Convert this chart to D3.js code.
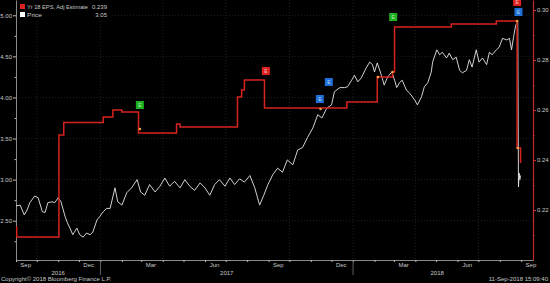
<!DOCTYPE html>
<html>
<head>
<meta charset="utf-8">
<script src="https://cdn.jsdelivr.net/npm/d3@7"></script>
<style>
  body { margin: 0; background: #000; }
  svg { display: block; font-family: "Liberation Sans", Arial, sans-serif; }
</style>
</head>
<body>
<div id="chart"></div>
<script>
// ---- Data ----
var priceDates = ["2016-09-01","2016-09-07","2016-09-13","2016-09-17","2016-09-21","2016-09-28","2016-10-03","2016-10-09","2016-10-13","2016-10-17","2016-10-23","2016-10-27","2016-11-01","2016-11-05","2016-11-11","2016-11-14","2016-11-18","2016-11-22","2016-11-28","2016-12-02","2016-12-07","2016-12-12","2016-12-17","2016-12-21","2016-12-27","2016-12-31","2017-01-05","2017-01-10","2017-01-15","2017-01-22","2017-01-26","2017-02-01","2017-02-08","2017-02-15","2017-02-23","2017-02-28","2017-03-06","2017-03-13","2017-03-21","2017-03-28","2017-04-04","2017-04-11","2017-04-18","2017-04-26","2017-05-03","2017-05-10","2017-05-17","2017-05-25","2017-06-01","2017-06-08","2017-06-15","2017-06-22","2017-06-30","2017-07-07","2017-07-14","2017-07-21","2017-07-28","2017-08-05","2017-08-12","2017-08-19","2017-08-25","2017-08-31","2017-09-07","2017-09-14","2017-09-21","2017-09-28","2017-10-06","2017-10-13","2017-10-20","2017-10-27","2017-11-04","2017-11-11","2017-11-17","2017-11-24","2017-12-01","2017-12-05","2017-12-13","2017-12-20","2017-12-24","2017-12-30","2018-01-03","2018-01-08","2018-01-13","2018-01-20","2018-01-25","2018-01-29","2018-02-01","2018-02-05","2018-02-11","2018-02-15","2018-02-20","2018-02-26","2018-03-02","2018-03-05","2018-03-09","2018-03-13","2018-03-19","2018-03-24","2018-03-31","2018-04-04","2018-04-10","2018-04-14","2018-04-19","2018-04-24","2018-04-26","2018-05-02","2018-05-06","2018-05-10","2018-05-16","2018-05-20","2018-05-25","2018-05-30","2018-06-04","2018-06-08","2018-06-14","2018-06-18","2018-06-22","2018-06-28","2018-07-02","2018-07-07","2018-07-13","2018-07-17","2018-07-21","2018-07-27","2018-07-31","2018-08-05","2018-08-11","2018-08-15","2018-08-18","2018-08-21","2018-08-24","2018-08-27","2018-08-28","2018-08-29","2018-08-30","2018-08-31"];
var priceValues = [2.68,2.69,2.57,2.63,2.72,2.80,2.78,2.61,2.60,2.72,2.73,2.72,2.78,2.73,2.55,2.48,2.41,2.33,2.41,2.33,2.30,2.35,2.33,2.36,2.51,2.55,2.61,2.65,2.65,2.90,2.73,2.69,2.84,2.90,3.00,2.85,2.81,2.94,2.85,2.92,3.02,2.92,2.98,2.90,3.00,2.92,2.87,2.96,2.90,2.81,2.94,3.00,2.92,3.02,2.94,3.01,2.97,3.05,2.90,2.69,2.81,2.94,3.06,3.14,3.09,3.24,3.18,3.36,3.39,3.51,3.63,3.79,3.75,3.87,3.91,4.07,4.12,4.12,4.13,4.21,4.27,4.19,4.24,4.36,4.43,4.40,4.31,4.42,4.27,4.15,4.25,4.31,4.21,4.12,4.18,4.21,4.09,4.05,3.97,3.91,4.01,4.13,4.18,4.31,4.43,4.58,4.52,4.55,4.48,4.54,4.46,4.49,4.33,4.30,4.33,4.46,4.37,4.58,4.43,4.48,4.40,4.55,4.52,4.58,4.61,4.72,4.70,4.72,4.58,4.74,4.88,4.92,2.91,3.08,3.00,3.05];

// Yr 18 EPS adjusted estimate (step series, right axis)
var epsDates = ["2016-09-01","2016-09-02","2016-11-02","2016-11-09","2017-01-05","2017-01-19","2017-02-01","2017-02-25","2017-04-21","2017-04-26","2017-07-18","2017-07-24","2017-07-28","2017-08-26","2017-12-23","2018-02-05","2018-02-27","2018-03-02","2018-05-23","2018-07-27","2018-08-26","2018-08-31"];
var epsValues = [0.2132,0.2092,0.2500,0.2550,0.2572,0.2600,0.2592,0.2508,0.2544,0.2532,0.2652,0.2680,0.2720,0.2608,0.2632,0.2732,0.2752,0.2932,0.2944,0.2956,0.2448,0.2388];

// small orange dots on the estimate line
var dotDates = ["2017-02-27","2017-11-15","2018-02-06","2018-02-27","2018-08-26","2018-08-27"];
var dotValues = [0.2524,0.2604,0.2732,0.2752,0.2956,0.2448];

// event boxes
var eventDates = ["2017-02-27","2017-08-28","2017-11-14","2017-11-27","2018-02-28","2018-08-26","2018-08-28"];
var eventValues = [0.2620,0.2756,0.2644,0.2712,0.2972,0.3032,0.2992];
var eventColors = ["green","red","blue","blue","green","red","blue"];

var priceTicks = [2.5, 3.0, 3.5, 4.0, 4.5, 5.0];
var priceMinor = [2.25, 2.75, 3.25, 3.75, 4.25, 4.75];
var epsTicks = [0.22, 0.24, 0.26, 0.28, 0.30];
var epsMinor = [0.21, 0.23, 0.25, 0.27, 0.29];

var monthLabelDates = ["2016-09-15","2016-12-15","2017-03-15","2017-06-15","2017-09-15","2017-12-15","2018-03-15","2018-06-15","2018-09-15"];
var monthLabels = ["Sep","Dec","Mar","Jun","Sep","Dec","Mar","Jun","Sep"];
var yearLabels = ["2016","2017","2018"];

var legendNames = ["Yr 18 EPS, Adj Estimate", "Price"];
var legendValues = ["0.239", "3.05"];

// ---- Layout ----
var width = 550, height = 283;
var plotLeft = 16, plotRight = 533, plotTop = 0, plotBottom = 260;
var parse = d3.timeParse("%Y-%m-%d");
var colors = { green: "#1db21d", red: "#e0201e", blue: "#1f6fd8" };
var labelColor = "#c8c8c8";

var svg = d3.select("#chart").append("svg")
  .attr("width", width)
  .attr("height", height);

svg.append("rect").attr("width", width).attr("height", height).attr("fill", "#000");

var x = d3.scaleTime()
  .domain([parse("2016-09-01"), parse("2018-09-18")])
  .range([plotLeft, plotRight]);
var yPrice = d3.scaleLinear().domain([2.022, 5.186]).range([plotBottom, plotTop]);
var yEps = d3.scaleLinear().domain([0.200, 0.304]).range([plotBottom, plotTop]);

// gridlines
var grid = svg.append("g").attr("stroke", "#2e2e2e").attr("stroke-width", 0.7).attr("stroke-dasharray", "1,2");
var quarterStarts = d3.timeMonth.range(parse("2016-10-01"), parse("2018-09-18"), 3);
grid.selectAll("line.v").data(quarterStarts).enter().append("line")
  .attr("x1", d => x(d)).attr("x2", d => x(d))
  .attr("y1", plotTop).attr("y2", plotBottom);
grid.selectAll("line.h").data(priceTicks).enter().append("line")
  .attr("x1", plotLeft).attr("x2", plotRight)
  .attr("y1", d => yPrice(d)).attr("y2", d => yPrice(d));

// left axis (price)
var leftAxis = svg.append("g").attr("transform", "translate(" + plotLeft + ",0)")
  .call(d3.axisLeft(yPrice).tickValues(priceTicks).tickFormat(d3.format(".2f")).tickSize(3).tickSizeOuter(0).tickPadding(1));
svg.append("g").attr("transform", "translate(" + plotLeft + ",0)")
  .call(d3.axisLeft(yPrice).tickValues(priceMinor).tickFormat("").tickSize(1.5).tickSizeOuter(0))
  .select(".domain").remove();

// right axis (EPS)
var rightAxis = svg.append("g").attr("transform", "translate(" + plotRight + ",0)")
  .call(d3.axisRight(yEps).tickValues(epsTicks).tickFormat(d3.format(".2f")).tickSize(3).tickSizeOuter(0).tickPadding(1));
svg.append("g").attr("class", "rminor").attr("transform", "translate(" + plotRight + ",0)")
  .call(d3.axisRight(yEps).tickValues(epsMinor).tickFormat("").tickSize(1.5).tickSizeOuter(0))
  .select(".domain").remove();

// bottom axis
var bottomAxis = svg.append("g").attr("transform", "translate(0," + plotBottom + ")")
  .call(d3.axisBottom(x).ticks(d3.timeMonth.every(1)).tickFormat("").tickSize(2).tickSizeOuter(0));

svg.selectAll(".domain").attr("stroke", "#8a8a8a");
svg.selectAll(".tick line").attr("stroke", "#bbbbbb");
svg.selectAll(".tick text").attr("fill", labelColor).style("font-size", "6px");
rightAxis.select(".domain").attr("stroke", "#c0281f").attr("stroke-width", 1.2);
rightAxis.selectAll(".tick line").attr("stroke", "#d0302a");
svg.selectAll(".rminor .tick line").attr("stroke", "#d0302a");

// month + year labels
svg.append("g").selectAll("text").data(monthLabelDates).enter().append("text")
  .attr("x", d => x(parse(d))).attr("y", 267)
  .attr("text-anchor", "middle").attr("fill", labelColor).style("font-size", "6px")
  .text((d, i) => monthLabels[i]);

var dataEnd = parse("2018-09-01");
var yearSeps = [parse("2017-01-01"), parse("2018-01-01")];
svg.append("g").selectAll("line").data(yearSeps).enter().append("line")
  .attr("x1", d => x(d)).attr("x2", d => x(d))
  .attr("y1", plotBottom).attr("y2", 275)
  .attr("stroke", "#777").attr("stroke-width", 0.8);
svg.append("g").selectAll("text").data(yearLabels).enter().append("text")
  .attr("x", d => {
    var a = d3.max([x.domain()[0], parse(d + "-01-01")]);
    var b = d3.min([dataEnd, parse((+d + 1) + "-01-01")]);
    return (x(a) + x(b)) / 2;
  })
  .attr("y", 275)
  .attr("text-anchor", "middle").attr("fill", labelColor).style("font-size", "6px")
  .text(d => d);

// price line
var priceData = priceDates.map((d, i) => ({ date: parse(d), value: priceValues[i] }));
svg.append("path").datum(priceData)
  .attr("fill", "none").attr("stroke", "#e6e6e6").attr("stroke-width", 0.9)
  .attr("d", d3.line().x(d => x(d.date)).y(d => yPrice(d.value)));

// EPS estimate step line
var epsData = epsDates.map((d, i) => ({ date: parse(d), value: epsValues[i] }));
svg.append("path").datum(epsData)
  .attr("fill", "none").attr("stroke", "#d8231f").attr("stroke-width", 1.5)
  .attr("d", d3.line().curve(d3.curveStepAfter).x(d => x(d.date)).y(d => yEps(d.value)));

// orange dots
svg.append("g").selectAll("circle").data(dotDates).enter().append("circle")
  .attr("cx", d => x(parse(d)))
  .attr("cy", (d, i) => yEps(dotValues[i]))
  .attr("r", 1.3).attr("fill", "#f0a040");

// event boxes
var ev = svg.append("g").selectAll("g").data(eventDates).enter().append("g")
  .attr("transform", (d, i) => "translate(" + x(parse(d)) + "," + yEps(eventValues[i]) + ")");
ev.append("rect")
  .attr("x", -4).attr("y", -4).attr("width", 8).attr("height", 8)
  .attr("fill", (d, i) => colors[eventColors[i]]);
ev.append("text")
  .attr("y", 1.8).attr("text-anchor", "middle")
  .attr("fill", "#e8f4ff").attr("fill-opacity", 0.75).style("font-size", "5px")
  .text("E");

// legend
var legend = svg.append("g");
legend.append("rect").attr("x", 18).attr("y", 0).attr("width", 92).attr("height", 20).attr("fill", "#000");
var legendColors = ["#e0201e", "#ffffff"];
var legendWidths = [61, 15];
legendNames.forEach(function (name, i) {
  legend.append("rect").attr("x", 20).attr("y", 4 + i * 8).attr("width", 5).attr("height", 5)
    .attr("fill", legendColors[i]);
  legend.append("text").attr("x", 27).attr("y", 9 + i * 8)
    .attr("textLength", legendWidths[i]).attr("lengthAdjust", "spacingAndGlyphs")
    .attr("fill", labelColor).style("font-size", "6px").text(name);
  legend.append("text").attr("x", 107).attr("y", 9 + i * 8).attr("text-anchor", "end")
    .attr("fill", labelColor).style("font-size", "6px").text(legendValues[i]);
});

// footer
svg.append("text").attr("x", 1).attr("y", 281)
  .attr("fill", labelColor).style("font-size", "6px")
  .text("Copyright\u00a9 2018 Bloomberg Finance L.P.");
svg.append("text").attr("x", 548).attr("y", 281).attr("text-anchor", "end")
  .attr("fill", labelColor).style("font-size", "6px")
  .text("11-Sep-2018 15:09:40");
</script>
</body>
</html>
